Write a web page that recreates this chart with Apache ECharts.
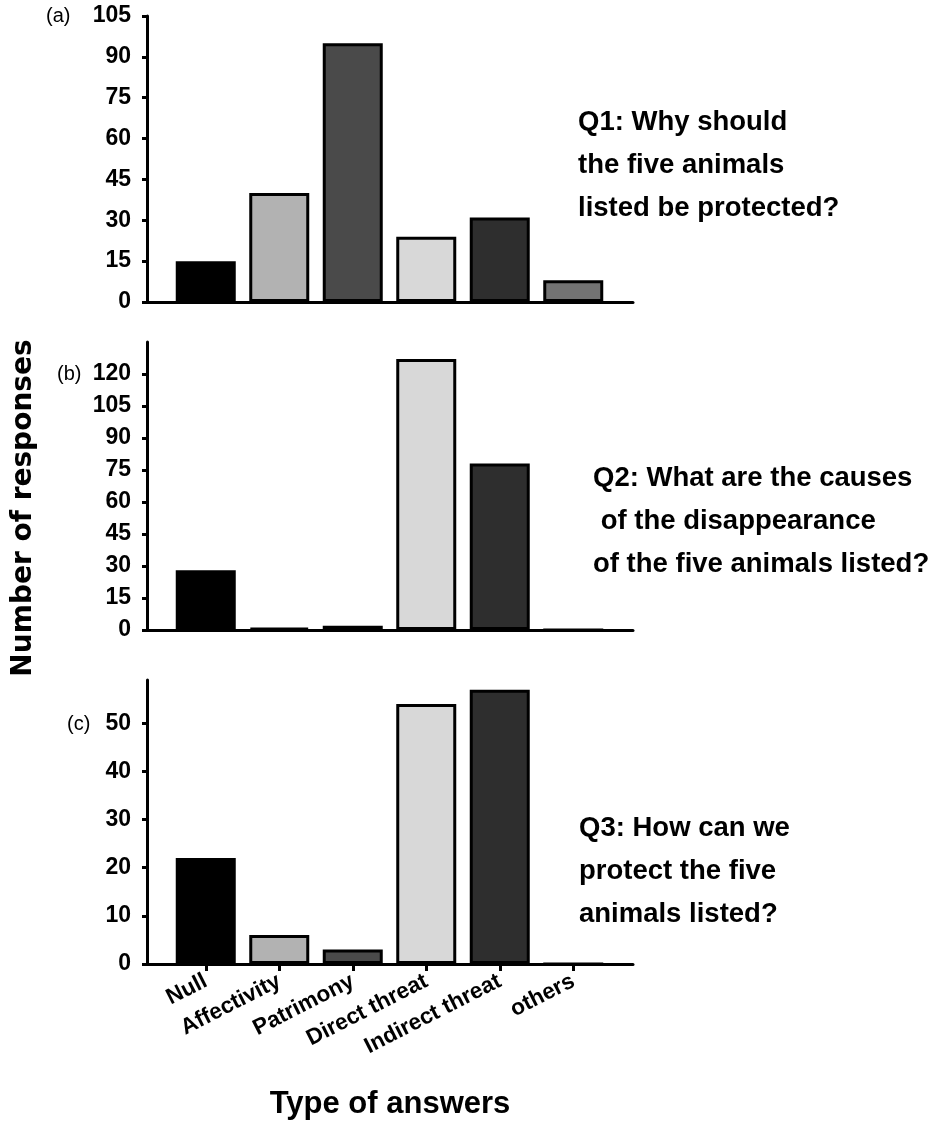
<!DOCTYPE html>
<html><head><meta charset="utf-8">
<script src="https://cdn.jsdelivr.net/npm/echarts@6/dist/echarts.min.js"></script>
<style>html,body{margin:0;padding:0;background:#fff}#c{width:937px;height:1128px}</style>
</head><body><div id="c"></div>
<script>
// ---- data ----
const categories = ['Null', 'Affectivity', 'Patrimony', 'Direct threat', 'Indirect threat', 'others'];
const barColors = ['#000000', '#b2b2b2', '#4a4a4a', '#d8d8d8', '#2e2e2e', '#737373'];
const q1Values = [15, 40, 95, 24, 31, 8];
const q2Values = [28, 1, 2, 127, 78, 0];
const q3Values = [22, 6, 3, 54, 57, 0];
const q1Ticks = [0, 15, 30, 45, 60, 75, 90, 105];
const q2Ticks = [0, 15, 30, 45, 60, 75, 90, 105, 120];
const q3Ticks = [0, 10, 20, 30, 40, 50];
const q1Text = ['Q1: Why should', 'the five animals', 'listed be protected?'];
const q2Text = ['Q2: What are the causes', ' of the disappearance', 'of the five animals listed?'];
const q3Text = ['Q3: How can we', 'protect the five', 'animals listed?'];
const panelLabels = ['(a)', '(b)', '(c)'];
const yTitle = 'Number of responses';
const xTitle = 'Type of answers';

// ---- layout ----
const panels = [
  { values: q1Values, ticks: q1Ticks, max: 105, interval: 15, top: 16, height: 286, text: q1Text, textLeft: 578, textTop: 101, labLeft: 46, labTop: 5, showX: false },
  { values: q2Values, ticks: q2Ticks, max: 135, interval: 15, top: 342, height: 288, text: q2Text, textLeft: 593, textTop: 457, labLeft: 57, labTop: 363, showX: false },
  { values: q3Values, ticks: q3Ticks, max: 59, interval: 10, top: 680, height: 284, text: q3Text, textLeft: 579, textTop: 807, labLeft: 67, labTop: 713, showX: true }
];
const ARIAL = 'Liberation Sans';
const axisStyle = { color: '#000', width: 3 };

const grid = [], xAxis = [], yAxis = [], series = [], title = [];
panels.forEach((p, i) => {
  grid.push({ left: 169, width: 441, top: p.top, height: p.height, outerBoundsMode: 'none', containLabel: false });
  grid.push({ left: 147, width: 486, top: p.top, height: p.height, outerBoundsMode: 'none', containLabel: false });
  xAxis.push({
    type: 'category', gridIndex: 2 * i, data: categories,
    axisLine: { show: true, onZero: false, lineStyle: axisStyle },
    axisTick: { show: p.showX, alignWithLabel: true, length: 7, lineStyle: { color: '#000', width: 3 } },
    axisLabel: { show: p.showX, rotate: 27, margin: 16, color: '#000', fontFamily: ARIAL, fontWeight: 'bold', fontSize: 22.5, interval: 0 },
    splitLine: { show: false }
  });
  xAxis.push({
    type: 'value', gridIndex: 2 * i + 1, min: 0, max: 1,
    axisLine: { show: true, onZero: false, lineStyle: axisStyle },
    axisTick: { show: false }, axisLabel: { show: false }, splitLine: { show: false }
  });
  yAxis.push({
    type: 'value', gridIndex: 2 * i, min: 0, max: p.max, interval: p.interval, offset: 22,
    axisLine: { show: true, onZero: false, lineStyle: axisStyle },
    axisTick: { show: true, length: 5, lineStyle: { color: '#000', width: 3 }, customValues: p.ticks },
    axisLabel: { show: true, margin: 16, color: '#000', fontFamily: ARIAL, fontWeight: 'bold', fontSize: 23, customValues: p.ticks },
    splitLine: { show: false }
  });
  yAxis.push({ type: 'value', gridIndex: 2 * i + 1, min: 0, max: 1, show: false });
  series.push({
    type: 'bar', xAxisIndex: 2 * i, yAxisIndex: 2 * i, barWidth: 60,
    data: p.values.map((v, k) => ({ value: v, itemStyle: { color: barColors[k] } })),
    itemStyle: { borderColor: '#000', borderWidth: 3 },
    emphasis: { disabled: true }
  });
  title.push({
    text: panelLabels[i], left: p.labLeft, top: p.labTop, padding: 0,
    textStyle: { color: '#000', fontFamily: ARIAL, fontWeight: 'normal', fontSize: 20, lineHeight: 22 }
  });
  title.push({
    text: p.text.join('\n'), left: p.textLeft, top: p.textTop, padding: 0,
    textStyle: { color: '#000', fontFamily: ARIAL, fontWeight: 'bold', fontSize: 27.5, lineHeight: 43 }
  });
});
title.push({
  text: xTitle, left: 390, top: 1087, padding: 0, textAlign: 'center',
  textStyle: { color: '#000', fontFamily: ARIAL, fontWeight: 'bold', fontSize: 31, lineHeight: 34 }
});

const chart = echarts.init(document.getElementById('c'), null, { renderer: 'canvas' });
chart.setOption({
  backgroundColor: '#fff',
  animation: false,
  title, grid, xAxis, yAxis, series,
  graphic: [{
    type: 'text', x: 24, y: 508, rotation: Math.PI / 2,
    style: { text: yTitle, align: 'center', verticalAlign: 'middle', fill: '#000', font: 'bold 28px "DejaVu Sans"' }
  }]
});
</script></body></html>
